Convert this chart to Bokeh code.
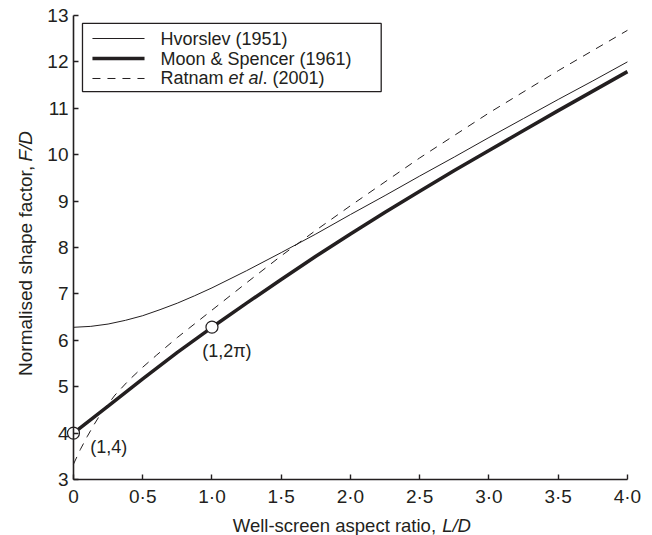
from bokeh.plotting import figure
from bokeh.models import Range1d, FixedTicker, Label
from bokeh.embed import file_html
from bokeh.resources import INLINE

# ---- data ----
hv_x = [0, 0.125, 0.25, 0.375, 0.5, 0.625, 0.75, 0.875, 1.0, 1.25, 1.5, 1.75,
        2.0, 2.25, 2.5, 2.75, 3.0, 3.25, 3.5, 3.75, 4.0]
hv_y = [6.28, 6.30, 6.35, 6.43, 6.53, 6.66, 6.80, 6.96, 7.13, 7.50, 7.89, 8.29,
        8.71, 9.12, 9.54, 9.95, 10.37, 10.78, 11.19, 11.59, 12.00]

ms_x = [0, 0.25, 0.5, 0.75, 1.0, 1.25, 1.5, 1.75, 2.0, 2.25, 2.5, 2.75,
        3.0, 3.25, 3.5, 3.75, 4.0]
ms_y = [4.00, 4.58, 5.17, 5.74, 6.28, 6.80, 7.31, 7.81, 8.29, 8.76, 9.21, 9.66,
        10.09, 10.52, 10.95, 11.37, 11.79]

rt_x = [0, 0.05, 0.1, 0.15, 0.2, 0.3, 0.4, 0.5, 0.6, 0.75, 1.0, 1.25, 1.5,
        1.75, 2.0, 2.5, 3.0, 3.5, 4.0]
rt_y = [3.33, 3.65, 3.93, 4.19, 4.43, 4.82, 5.14, 5.42, 5.68, 6.06, 6.65, 7.24,
        7.82, 8.37, 8.90, 9.93, 10.90, 11.81, 12.68]

pt_x = [0, 1.0]
pt_y = [4.0, 6.2832]
pt_labels = ["(1,4)", "(1,2\u03c0)"]

x_ticks = [0, 0.5, 1.0, 1.5, 2.0, 2.5, 3.0, 3.5, 4.0]
x_tick_labels = ["0", "0\u00b75", "1\u00b70", "1\u00b75", "2\u00b70",
                 "2\u00b75", "3\u00b70", "3\u00b75", "4\u00b70"]
y_ticks = [3, 4, 5, 6, 7, 8, 9, 10, 11, 12, 13]

legend_names = ["Hvorslev (1951)", "Moon & Spencer (1961)", "Ratnam", "et al", ". (2001)"]

INK = "#231f20"
FONT = "Liberation Sans"

# frame covers the whole canvas; axes sit at fixed data locations
p = figure(width=652, height=535,
           x_range=Range1d(-0.527, 4.181), y_range=Range1d(1.793, 13.323),
           output_backend="svg", toolbar_location=None,
           min_border_left=0, min_border_right=0, min_border_top=0,
           min_border_bottom=0)
p.outline_line_color = None
p.xgrid.visible = False
p.ygrid.visible = False
p.background_fill_color = "white"
p.border_fill_color = "white"

for ax in (p.xaxis[0], p.yaxis[0]):
    ax.axis_line_color = INK
    ax.axis_line_width = 1.6
    ax.major_tick_line_color = INK
    ax.major_tick_line_width = 1.4
    ax.major_tick_in = 5
    ax.major_tick_out = 0
    ax.minor_tick_line_color = None
    ax.major_label_text_font = FONT
    ax.major_label_text_font_size = "19px"
    ax.major_label_text_color = INK

p.xaxis.fixed_location = 3
p.xaxis.bounds = (0, 4)
p.xaxis.ticker = FixedTicker(ticks=x_ticks)
p.xaxis.major_label_overrides = dict(zip(x_ticks, x_tick_labels))
p.xaxis.major_label_standoff = 7
p.yaxis.fixed_location = 0
p.yaxis.bounds = (3, 13)
p.yaxis.ticker = FixedTicker(ticks=y_ticks)
p.yaxis.major_label_standoff = 5

# curves
p.line(hv_x, hv_y, line_color=INK, line_width=1.0)
p.line(ms_x, ms_y, line_color=INK, line_width=3.5)
p.line(rt_x, rt_y, line_color=INK, line_width=1.0, line_dash="8 7")
p.scatter(pt_x, pt_y, marker="circle", size=12, fill_color="white",
          line_color=INK, line_width=1.2)

# point annotations
p.add_layout(Label(x=0.121, y=3.70, text=pt_labels[0], text_font=FONT,
                   text_font_size="18px", text_color=INK, text_baseline="middle"))
p.add_layout(Label(x=0.929, y=5.76, text=pt_labels[1], text_font=FONT,
                   text_font_size="18px", text_color=INK, text_baseline="middle"))

# axis labels (normal + italic parts)
p.add_layout(Label(x=2.618, y=2.01, text="Well-screen aspect ratio,", text_font=FONT,
                   text_font_size="18.5px", text_color=INK, text_align="right",
                   text_baseline="alphabetic"))
p.add_layout(Label(x=2.662, y=2.01, text="L/D", text_font=FONT,
                   text_font_style="italic", text_font_size="18.5px", text_color=INK,
                   text_align="left", text_baseline="alphabetic"))
p.add_layout(Label(x=-0.343, y=9.76, text="Normalised shape factor,", text_font=FONT,
                   text_font_size="19px", text_color=INK, text_align="right",
                   text_baseline="alphabetic", angle=1.5707963))
p.add_layout(Label(x=-0.343, y=9.853, text="F/D", text_font=FONT,
                   text_font_style="italic", text_font_size="19px", text_color=INK,
                   text_align="left", text_baseline="alphabetic", angle=1.5707963))

# legend box
p.quad(left=[0.065], right=[2.222], bottom=[11.36], top=[12.83],
       fill_color="white", line_color=INK, line_width=1.3)
rows = [12.504, 12.073, 11.642]
p.line([0.137, 0.513], [rows[0], rows[0]], line_color=INK, line_width=1.0)
p.line([0.137, 0.513], [rows[1], rows[1]], line_color=INK, line_width=3.5)
p.line([0.137, 0.513], [rows[2], rows[2]], line_color=INK, line_width=1.0, line_dash="8 7")
for txt, xx, yy, st in [(legend_names[0], 0.628, rows[0], "normal"),
                        (legend_names[1], 0.628, rows[1], "normal"),
                        (legend_names[2], 0.628, rows[2], "normal"),
                        (legend_names[3], 1.119, rows[2], "italic"),
                        (legend_names[4], 1.365, rows[2], "normal")]:
    p.add_layout(Label(x=xx, y=yy, text=txt, text_font=FONT, text_font_size="18px",
                       text_font_style=st, text_color=INK, text_baseline="middle"))

open("out.html", "w").write(file_html(p, INLINE))
